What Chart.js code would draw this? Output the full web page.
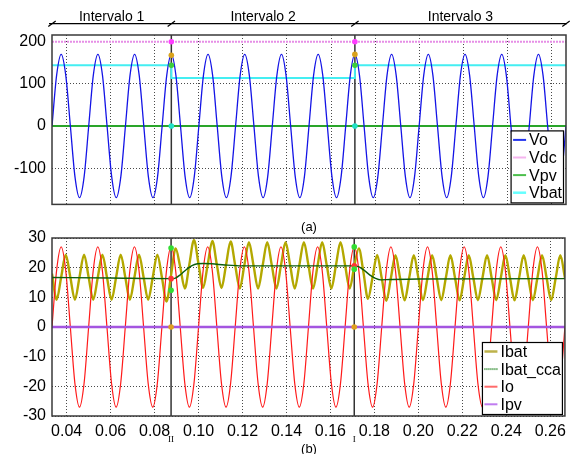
<!DOCTYPE html>
<html>
<head>
<meta charset="utf-8">
<script src="https://cdn.jsdelivr.net/npm/chart.js@4"></script>
<style>
  body { margin: 0; background: #fff; width: 572px; height: 454px; position: relative; overflow: hidden;
         font-family: "Liberation Sans", Arial, sans-serif; }
  canvas { position: absolute; left: 0; }
  #topChart { top: 0; }
  #botChart { top: 220px; }
  .cap { position: absolute; left: 289px; width: 40px; text-align: center; font-size: 13px; line-height: 13px; color: #000; }
</style>
</head>
<body>
<canvas id="topChart" width="572" height="220"></canvas>
<canvas id="botChart" width="572" height="234"></canvas>
<div class="cap" style="top:220px">(a)</div>
<div class="cap" style="top:442px">(b)</div>
<script>
// time base of the sampled waveforms (ms)
const timeMs = [
  33.33, 35.42, 37.50, 39.58, 41.67, 43.75, 45.83, 47.92,
  50.00, 52.08, 54.17, 56.25, 58.33, 60.42, 62.50, 64.58,
  66.67, 68.75, 70.83, 72.92, 75.00, 77.08, 79.17, 81.25,
  83.33, 85.42, 87.50, 89.58, 91.67, 93.75, 95.83, 97.92,
  100.00, 102.08, 104.17, 106.25, 108.33, 110.42, 112.50, 114.58,
  116.67, 118.75, 120.83, 122.92, 125.00, 127.08, 129.17, 131.25,
  133.33, 135.42, 137.50, 139.58, 141.67, 143.75, 145.83, 147.92,
  150.00, 152.08, 154.17, 156.25, 158.33, 160.42, 162.50, 164.58,
  166.67, 168.75, 170.83, 172.92, 175.00, 177.08, 179.17, 181.25,
  183.33, 185.42, 187.50, 189.58, 191.67, 193.75, 195.83, 197.92,
  200.00, 202.08, 204.17, 206.25, 208.33, 210.42, 212.50, 214.58,
  216.67, 218.75, 220.83, 222.92, 225.00, 227.08, 229.17, 231.25,
  233.33, 235.42, 237.50, 239.58, 241.67, 243.75, 245.83, 247.92,
  250.00, 252.08, 254.17, 256.25, 258.33, 260.42, 262.50, 264.58,
  266.67
];

// (a) voltages
const vo = [
  0, 120, 170, 120, 0, -120, -170, -120,
  0, 120, 170, 120, 0, -120, -170, -120,
  0, 120, 170, 120, 0, -120, -170, -120,
  0, 120, 170, 120, 0, -120, -170, -120,
  0, 120, 170, 120, 0, -120, -170, -120,
  0, 120, 170, 120, 0, -120, -170, -120,
  0, 120, 170, 120, 0, -120, -170, -120,
  0, 120, 170, 120, 0, -120, -170, -120,
  0, 120, 170, 120, 0, -120, -170, -120,
  0, 120, 170, 120, 0, -120, -170, -120,
  0, 120, 170, 120, 0, -120, -170, -120,
  0, 120, 170, 120, 0, -120, -170, -120,
  0, 120, 170, 120, 0, -120, -170, -120,
  0, 120, 170, 120, 0, -120, -170, -120,
  0
];
const levelMs = [33.33, 266.67];
const vdc = [200, 200];
const vpv = [0, 0];
const vbatMs = [33.33, 87.5, 87.5, 170.83, 170.83, 266.67];
const vbat = [144, 144, 114, 114, 144, 144];

// (b) currents
const io = [
  0, 19, 27, 19, 0, -19, -27, -19,
  0, 19, 27, 19, 0, -19, -27, -19,
  0, 19, 27, 19, 0, -19, -27, -19,
  0, 19, 27, 19, 0, -19, -27, -19,
  0, 19, 27, 19, 0, -19, -27, -19,
  0, 19, 27, 19, 0, -19, -27, -19,
  0, 19, 27, 19, 0, -19, -27, -19,
  0, 19, 27, 19, 0, -19, -27, -19,
  0, 19, 27, 19, 0, -19, -27, -19,
  0, 19, 27, 19, 0, -19, -27, -19,
  0, 19, 27, 19, 0, -19, -27, -19,
  0, 19, 27, 19, 0, -19, -27, -19,
  0, 19, 27, 19, 0, -19, -27, -19,
  0, 19, 27, 19, 0, -19, -27, -19,
  0
];
const ibat = [
  18, 9.2, 16.8, 24.4, 16.8, 9.2, 16.8, 24.4,
  16.8, 9.2, 16.8, 24.4, 16.8, 9.2, 16.8, 24.4,
  16.8, 9.2, 16.8, 24.4, 16.8, 9.2, 16.8, 24.4,
  16.8, 8.6, 17.5, 26.5, 20.2, 13.0, 21.2, 29.3,
  21.2, 13.2, 21.1, 29.0, 21.0, 13.1, 20.9, 28.8,
  20.8, 13.0, 20.8, 28.6, 20.8, 13.0, 20.8, 28.6,
  20.8, 13.0, 20.8, 28.6, 20.8, 13.0, 20.8, 28.6,
  20.8, 13.0, 20.8, 28.6, 20.8, 13.0, 20.8, 28.6,
  20.8, 13.0, 20.5, 26.5, 18.5, 9.5, 16.8, 24.3,
  16.5, 8.8, 16.5, 24.2, 16.5, 9.0, 16.6, 24.2,
  16.6, 9.0, 16.6, 24.2, 16.6, 9.0, 16.6, 24.2,
  16.6, 9.0, 16.6, 24.2, 16.6, 9.0, 16.6, 24.2,
  16.6, 9.0, 16.6, 24.2, 16.6, 9.0, 16.6, 24.2,
  16.6, 9.0, 16.6, 24.2, 16.6, 9.0, 16.6, 24.2,
  16.6
];
const ccaMs = [33.33, 60, 87.5, 89.5, 92, 94.5, 97, 99.5, 102, 106, 112, 120,
               170.83, 173, 175.5, 178, 180.5, 183, 187, 200, 266.67];
const ibatCca = [16.7, 16.5, 16.3, 16.5, 17.8, 19.4, 20.7, 21.3, 21.4, 21.3, 20.9, 20.6,
                 20.6, 20.3, 19.0, 17.5, 16.4, 15.9, 16.0, 16.2, 16.3];
const ipv = [0, 0];

// interval boundaries and cursor readings
const boundaryMs = [87.5, 170.83];
const boundaryNames = ['II', 'I'];
const intervalNames = ['Intervalo 1', 'Intervalo 2', 'Intervalo 3'];
const vCursor = [[200, 168, 144, 0], [200, 170, 144, 0]];
const vCursorColors = ['#ff3cff', '#d9a21b', '#3ccf3c', '#22e0c8'];
const iCursor = [[26.6, 16.3, 12.4, 0], [27, 20.6, 19.5, 0]];
const iCursorColors = ['#33dd33', '#ff3333', '#33dd33', '#e0a020'];

// axes
const xRange = [33.33, 266.67];
const xTicks = [0.04, 0.06, 0.08, 0.10, 0.12, 0.14, 0.16, 0.18, 0.20, 0.22, 0.24, 0.26];
const vRange = [-186, 216];
const vTicks = [-100, 0, 100, 200];
const iRange = [-30, 30];
const iTicks = [-30, -20, -10, 0, 10, 20, 30];

const FONT = '"Liberation Sans", Arial, sans-serif';
Chart.defaults.font.family = FONT;
Chart.defaults.font.size = 16;
Chart.defaults.color = '#000';

function toPts(times, vals) {
  return vals.map((v, i) => ({ x: times[i] / 1000, y: v }));
}
function cursorPts(table) {
  const pts = [];
  table.forEach((vals, j) => vals.forEach(v => pts.push({ x: boundaryMs[j] / 1000, y: v })));
  return pts;
}

const gridOpts = { color: '#4a4a4a', lineWidth: 1, drawTicks: false };
const borderOpts = { display: false, dash: [1, 2] };

function xAxis(showLabels, height) {
  return {
    type: 'linear', min: xRange[0] / 1000, max: xRange[1] / 1000,
    afterBuildTicks: a => { a.ticks = xTicks.map(v => ({ value: v })); },
    afterFit: s => { s.height = height; },
    grid: gridOpts, border: borderOpts,
    ticks: { display: showLabels, padding: 6, maxRotation: 0, callback: v => v.toFixed(2) }
  };
}
function yAxis(range, ticks) {
  return {
    type: 'linear', min: range[0], max: range[1],
    afterBuildTicks: a => { a.ticks = ticks.map(v => ({ value: v })); },
    afterFit: s => { s.width = 52; },
    grid: gridOpts, border: borderOpts,
    ticks: { padding: 6, callback: v => String(v) }
  };
}

// frame, interval boundaries, legend
function drawFrame(chart) {
  const { ctx, chartArea: a } = chart;
  ctx.save();
  ctx.strokeStyle = '#3a3a3a';
  ctx.lineWidth = 1.5;
  ctx.strokeRect(a.left, a.top, a.right - a.left, a.bottom - a.top);
  ctx.restore();
}
function drawBoundaries(chart) {
  const { ctx, chartArea: a, scales: { x } } = chart;
  ctx.save();
  ctx.strokeStyle = '#333';
  ctx.lineWidth = 1.5;
  boundaryMs.forEach(b => {
    const px = x.getPixelForValue(b / 1000);
    ctx.beginPath();
    ctx.moveTo(px, a.top);
    ctx.lineTo(px, a.bottom);
    ctx.stroke();
  });
  ctx.restore();
}
function drawLegend(chart, items) {
  const { ctx, chartArea: a } = chart;
  ctx.save();
  ctx.font = '16px ' + FONT;
  const maxW = Math.max(...items.map(it => ctx.measureText(it.label).width));
  const w = 18 + maxW + 1.5, h = 72;
  const right = a.right - 2.5, bottom = a.bottom - 1.5;
  const left = right - w, top = bottom - h;
  ctx.fillStyle = '#fff';
  ctx.fillRect(left, top, w, h);
  ctx.strokeStyle = '#000';
  ctx.lineWidth = 1.2;
  ctx.strokeRect(left, top, w, h);
  items.forEach((it, i) => {
    const y = top + 9 + i * 17.6;
    ctx.strokeStyle = it.color;
    ctx.lineWidth = it.width;
    ctx.setLineDash(it.dash || []);
    ctx.beginPath();
    ctx.moveTo(left + 2, y);
    ctx.lineTo(left + 15, y);
    ctx.stroke();
    ctx.setLineDash([]);
    ctx.fillStyle = '#000';
    ctx.textBaseline = 'middle';
    ctx.textAlign = 'left';
    ctx.fillText(it.label, left + 18, y + 1);
  });
  ctx.restore();
}

const topPlugin = {
  id: 'topDecor',
  beforeDatasetsDraw(chart) { drawBoundaries(chart); },
  afterDraw(chart) {
    drawFrame(chart);
    drawLegend(chart, [
      { label: 'Vo', color: '#2233ee', width: 2 },
      { label: 'Vdc', color: '#f5b5ef', width: 2 },
      { label: 'Vpv', color: '#4cbf4c', width: 2 },
      { label: 'Vbat', color: '#66ffff', width: 2.5 }
    ]);
    // interval header
    const { ctx, chartArea: a, scales: { x } } = chart;
    const xs = [a.left, ...boundaryMs.map(b => x.getPixelForValue(b / 1000)), a.right];
    const y = 23.7;
    ctx.save();
    ctx.strokeStyle = '#000';
    ctx.lineWidth = 1.2;
    ctx.beginPath();
    ctx.moveTo(xs[0] - 3, y);
    ctx.lineTo(xs[xs.length - 1] + 1, y);
    ctx.stroke();
    xs.forEach(px => {
      ctx.beginPath();
      ctx.moveTo(px - 3.7, y + 2.8);
      ctx.lineTo(px + 3.7, y - 2.8);
      ctx.stroke();
    });
    ctx.font = '14px ' + FONT;
    ctx.fillStyle = '#000';
    ctx.textAlign = 'center';
    ctx.textBaseline = 'alphabetic';
    intervalNames.forEach((s, i) => ctx.fillText(s, (xs[i] + xs[i + 1]) / 2, 20.5));
    ctx.restore();
  }
};

const botPlugin = {
  id: 'botDecor',
  beforeDatasetsDraw(chart) { drawBoundaries(chart); },
  afterDraw(chart) {
    drawFrame(chart);
    drawLegend(chart, [
      { label: 'Ibat', color: '#bdb24a', width: 2.5 },
      { label: 'Ibat_cca', color: '#2e8b2e', width: 2, dash: [1, 1] },
      { label: 'Io', color: '#ff6b6b', width: 2 },
      { label: 'Ipv', color: '#c07cf0', width: 2 }
    ]);
    const { ctx, scales: { x } } = chart;
    ctx.save();
    ctx.font = '9px "Liberation Serif", "Times New Roman", serif';
    ctx.fillStyle = '#000';
    ctx.textAlign = 'center';
    ctx.textBaseline = 'middle';
    boundaryMs.forEach((b, i) => ctx.fillText(boundaryNames[i], x.getPixelForValue(b / 1000), 219.5));
    ctx.restore();
  }
};

const baseOpts = {
  responsive: false,
  animation: false,
  devicePixelRatio: 1,
  parsing: false,
  normalized: true,
  elements: { point: { radius: 0 }, line: { tension: 0 } },
  plugins: { legend: { display: false }, tooltip: { enabled: false } }
};

new Chart(document.getElementById('topChart'), {
  type: 'line',
  data: {
    datasets: [
      { label: 'cursor', data: cursorPts(vCursor), showLine: false, pointRadius: 2.8, pointBorderWidth: 0,
        pointBackgroundColor: vCursor.flatMap(() => vCursorColors) },
      { label: 'Vo', data: toPts(timeMs, vo), borderColor: '#1414e6', borderWidth: 1.3, cubicInterpolationMode: 'monotone' },
      { label: 'Vpv', data: toPts(levelMs, vpv), borderColor: '#2aa52a', borderWidth: 2 },
      { label: 'Vdc', data: toPts(levelMs, vdc), borderColor: '#e68ee6', borderWidth: 1.8, borderDash: [2, 1] },
      { label: 'Vbat', data: toPts(vbatMs, vbat), borderColor: '#44eef2', borderWidth: 2 }
    ]
  },
  options: Object.assign({}, baseOpts, {
    layout: { padding: { left: 0, top: 35, right: 6, bottom: 7 } },
    scales: { x: xAxis(false, 0), y: yAxis(vRange, vTicks) }
  }),
  plugins: [topPlugin]
});

new Chart(document.getElementById('botChart'), {
  type: 'line',
  data: {
    datasets: [
      { label: 'cursor', data: cursorPts(iCursor), showLine: false, pointRadius: 2.8, pointBorderWidth: 0,
        pointBackgroundColor: iCursor.flatMap(() => iCursorColors) },
      { label: 'Ipv', data: toPts(levelMs, ipv), borderColor: '#a455e0', borderWidth: 2.5 },
      { label: 'Ibat_cca', data: toPts(ccaMs, ibatCca), borderColor: '#0d5e0d', borderWidth: 1.4, cubicInterpolationMode: 'monotone' },
      { label: 'Io', data: toPts(timeMs, io), borderColor: '#ff1a1a', borderWidth: 1.2, cubicInterpolationMode: 'monotone' },
      { label: 'Ibat', data: toPts(timeMs, ibat), borderColor: '#b3a800', borderWidth: 2.4, cubicInterpolationMode: 'monotone' }
    ]
  },
  options: Object.assign({}, baseOpts, {
    layout: { padding: { left: 0, top: 18, right: 6, bottom: 0 } },
    scales: { x: xAxis(true, 38), y: yAxis(iRange, iTicks) }
  }),
  plugins: [botPlugin]
});
</script>
</body>
</html>
